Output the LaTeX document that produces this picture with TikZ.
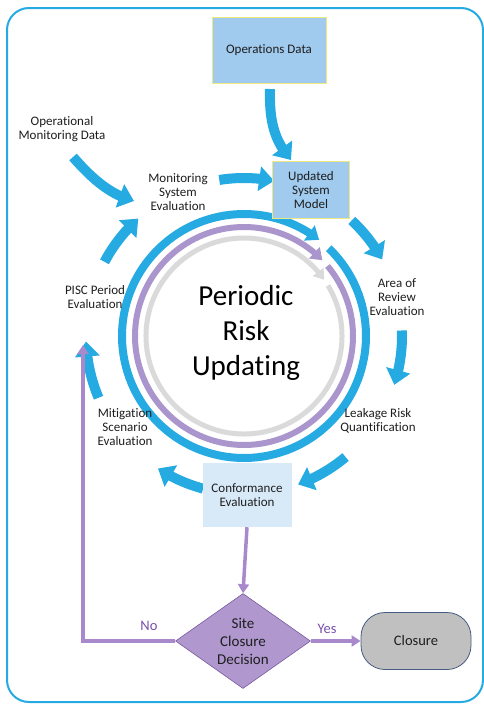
\documentclass[tikz,border=0pt]{standalone}
\usepackage{fontspec}
\setmainfont[Ligatures=NoCommon]{Carlito}
\usetikzlibrary{arrows.meta,bending,shapes.geometric}

\definecolor{cycblue}{RGB}{38,170,226}
\definecolor{ringpurple}{RGB}{170,150,205}
\definecolor{ringgrey}{RGB}{218,218,218}
\definecolor{opsfill}{RGB}{160,202,238}
\definecolor{boxedge}{RGB}{236,232,130}
\definecolor{conffill}{RGB}{216,233,248}
\definecolor{flowpurple}{RGB}{168,138,204}
\definecolor{decfill}{RGB}{176,152,206}
\definecolor{decedge}{RGB}{120,90,160}
\definecolor{closefill}{RGB}{192,192,192}
\definecolor{closeedge}{RGB}{70,90,130}
\definecolor{txt}{RGB}{30,30,30}
\definecolor{nolabel}{RGB}{120,80,170}

\tikzset{
  lbl/.style={align=center, text=txt, font=\fontsize{13}{14.4}\selectfont, inner sep=0pt},
  cyclearrow/.style={cycblue, line width=10pt, -{Triangle[width=24pt,length=15pt]}},
  flow/.style={flowpurple, line width=3.5pt, -{Triangle[width=11pt,length=9pt]}},
  answer/.style={text=nolabel, font=\fontsize{14.5}{16}\selectfont, inner sep=0pt}
}

\begin{document}
\begin{tikzpicture}[x=1pt,y=-1pt]
    \useasboundingbox (0,0) rectangle (483,704);

    % outer frame
    \draw[cycblue, line width=2pt, rounded corners=22pt] (7,8) rectangle (483,702);

    % centre rings
    \coordinate (c) at (244,336);
    \draw[ringgrey, line width=5pt, -{Triangle[width=13pt,length=10pt]}]
        (c) ++(-31:98) arc[start angle=-31, end angle=325, radius=98];
    \draw[ringpurple, line width=6pt, -{Triangle[width=15pt,length=11pt]}]
        (c) ++(-40:109) arc[start angle=-40, end angle=316, radius=109];
    \draw[cycblue, line width=8pt, -{Triangle[width=18pt,length=12pt]}]
        (c) ++(-46:122) arc[start angle=-46, end angle=308, radius=122];
    \node[text=black, align=center, font=\fontsize{29}{35}\selectfont] (pru) at (246,333)
        {Periodic\\Risk\\Updating};

    % cycle of steps
    \foreach \a/\b in {-99/-79, -47/-29, -2/18, 50/70, 105/123, 157/178, -152/-132}
        \draw[cyclearrow] (c) ++(\a:158) arc[start angle=\a, end angle=\b, radius=158];

    % boxes
    \node[fill=opsfill, draw=boxedge, line width=0.6pt, minimum width=114pt, minimum height=66pt,
          lbl] (opsdata) at (269,50) {Operations Data};
    \node[fill=opsfill, draw=boxedge, line width=0.6pt, minimum width=77pt, minimum height=57pt,
          lbl] (usm) at (311,190) {Updated\\System\\Model};
    \node[fill=conffill, minimum width=89pt, minimum height=64pt,
          lbl] (conf) at (247,495) {Conformance\\Evaluation};

    % labels
    \node[lbl] (opmon) at (62,129) {Operational\\Monitoring Data};
    \node[lbl] (monsys) at (178,192) {Monitoring\\System\\Evaluation};
    \node[lbl] (area) at (397,297) {Area of\\Review\\Evaluation};
    \node[lbl] (leak) at (378,421) {Leakage Risk\\Quantification};
    \node[lbl] (mitig) at (125,427) {Mitigation\\Scenario\\Evaluation};
    \node[lbl] (pisc) at (95,297) {PISC Period\\Evaluation};

    % inputs
    \coordinate (opsstart) at (270,89);
    \coordinate (opsend) at (291,160);
    \draw[cyclearrow] (opsstart) .. controls (269,125) and (276,142) .. (opsend);
    \coordinate (omstart) at (73,157);
    \coordinate (omend) at (134,201);
    \draw[cyclearrow] (omstart) .. controls (95,182) and (112,195) .. (omend);

    % decision
    \node[diamond, aspect=1.42, inner sep=0pt, minimum width=135pt, minimum height=95pt,
          fill=decfill, draw=decedge, line width=0.6pt, align=center, text=txt,
          font=\fontsize{15}{18}\selectfont] (decide) at (243,641) {Site\\Closure\\Decision};
    \node[rounded corners=24pt, minimum width=110pt, minimum height=57pt, fill=closefill,
          draw=closeedge, line width=0.8pt, text=txt, font=\fontsize{14.5}{16}\selectfont]
          (closure) at (416,641) {Closure};

    \draw[flow] (conf.south) -- (decide.north);
    \coordinate (noend) at (83,345);
    \draw[flow] (decide.west) -| (noend);
    \draw[flow] (decide.east) -- (closure.west);
    \node[answer] (no) at (149,626) {No};
    \node[answer] (yes) at (327,629) {Yes};
\end{tikzpicture}
\end{document}
